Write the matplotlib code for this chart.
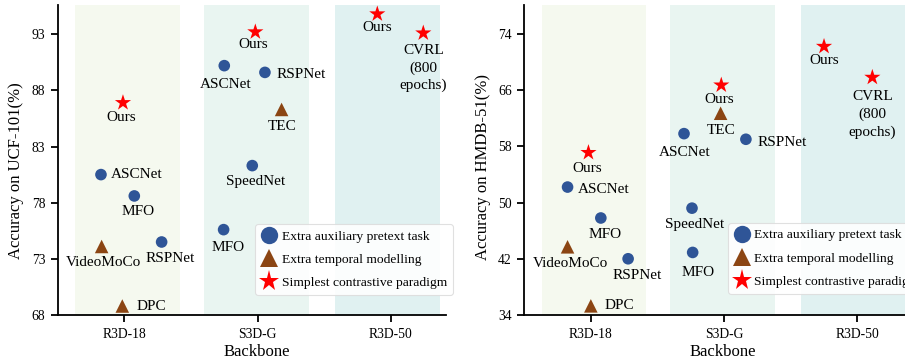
import matplotlib
matplotlib.use("Agg")
import matplotlib.pyplot as plt
from matplotlib.lines import Line2D

plt.rcParams['font.family'] = ['Liberation Serif', 'DejaVu Serif']

# ---------------- data ----------------
backbones = ["R3D-18", "S3D-G", "R3D-50"]
categories = ["Extra auxiliary pretext task", "Extra temporal modelling", "Simplest contrastive paradigm"]

# UCF-101
ucf_names = ["Ours", "ASCNet", "MFO", "RSPNet", "VideoMoCo", "DPC",
             "Ours", "ASCNet", "RSPNet", "TEC", "SpeedNet", "MFO",
             "Ours", "CVRL\n(800\nepochs)"]
ucf_x = [-0.01, -0.175, 0.075, 0.28, -0.17, -0.015,
         0.983, 0.75, 1.055, 1.18, 0.96, 0.745,
         1.898, 2.243]
ucf_acc = [86.9, 80.5, 78.6, 74.5, 74.1, 68.8,
           93.2, 90.2, 89.6, 86.3, 81.3, 75.6,
           94.8, 93.1]
ucf_cat = [2, 0, 0, 0, 1, 1,
           2, 0, 0, 1, 0, 0,
           2, 2]

# HMDB-51
hmdb_names = ["Ours", "ASCNet", "MFO", "VideoMoCo", "RSPNet", "DPC",
              "Ours", "TEC", "ASCNet", "RSPNet", "SpeedNet", "MFO",
              "Ours", "CVRL\n(800\nepochs)"]
hmdb_x = [-0.018, -0.175, 0.075, -0.175, 0.28, 0.0,
          0.98, 0.975, 0.70, 1.165, 0.76, 0.765,
          1.752, 2.115]
hmdb_acc = [57.1, 52.2, 47.8, 43.7, 42.0, 35.3,
            66.7, 62.7, 59.8, 59.0, 49.2, 42.9,
            72.2, 67.8]
hmdb_cat = [2, 0, 0, 1, 0, 1,
            2, 1, 0, 0, 0, 0,
            2, 2]

ucf_ticks = [68, 73, 78, 83, 88, 93]
hmdb_ticks = [34, 42, 50, 58, 66, 74]

# ---------------- styles / layout ----------------
cat_marker = ['o', '^', '*']
cat_color = ['#2f5597', '#8b4513', '#ff0000']
cat_size = [70, 95, 150]
band_colors = ['#f5f9ef', '#e9f5f1', '#e0f1f1']
band_edges = [(-0.37, 0.418), (0.598, 1.386), (1.579, 2.367)]

# label offsets in pixels (dx, dy, ha, va)
ucf_off = [(-2, -15, 'center', 'center'), (10, 0, 'left', 'center'), (4, -16, 'center', 'center'),
           (9, -17, 'center', 'center'), (2, -16, 'center', 'center'), (14, 0, 'left', 'center'),
           (-2, -13, 'center', 'center'), (1, -19, 'center', 'center'), (12, -2, 'left', 'center'),
           (1, -17, 'center', 'center'), (3, -16, 'center', 'center'), (4, -18, 'center', 'center'),
           (0, -14, 'center', 'center'), (0, -11, 'center', 'top')]
hmdb_off = [(-1, -16, 'center', 'center'), (10, -2, 'left', 'center'), (4, -17, 'center', 'center'),
            (3, -17, 'center', 'center'), (9, -17, 'center', 'center'), (14, 0, 'left', 'center'),
            (-2, -14, 'center', 'center'), (1, -17, 'center', 'center'), (1, -19, 'center', 'center'),
            (12, -3, 'left', 'center'), (3, -16, 'center', 'center'), (5, -20, 'center', 'center'),
            (0, -14, 'center', 'center'), (0, -13, 'center', 'top')]

fig = plt.figure(figsize=(9.05, 3.6), dpi=100)
W, H = 905.0, 360.0
ax1 = fig.add_axes([57.65 / W, 1 - 315 / H, 388.3 / W, 310 / H])
ax2 = fig.add_axes([524.3 / W, 1 - 315 / H, 387.7 / W, 310 / H])


def draw(ax, xs, ys, cats, names, offs, ticks, ylim, ylabel, leg_anchor, ylab_y):
    for (a, b), c in zip(band_edges, band_colors):
        ax.axvspan(a, b, color=c, zorder=0, lw=0)
    for ci in range(3):
        px = [x for x, k in zip(xs, cats) if k == ci]
        py = [y for y, k in zip(ys, cats) if k == ci]
        ax.scatter(px, py, marker=cat_marker[ci], s=cat_size[ci], color=cat_color[ci],
                   edgecolors='none', zorder=3)
    for x, y, n, (dx, dy, ha, va) in zip(xs, ys, names, offs):
        ax.annotate(n, (x, y), xytext=(dx, dy), textcoords='offset pixels',
                    ha=ha, va=va, fontsize=11, multialignment='center',
                    linespacing=1.4, zorder=4)
    ax.set_xlim(-0.5, 2.413)
    ax.set_ylim(*ylim)
    ax.set_xticks(range(len(backbones)))
    ax.set_xticklabels(backbones, fontsize=9.8)
    ax.set_yticks(ticks)
    ax.set_yticklabels([str(t) for t in ticks], fontsize=9.8)
    ax.set_xlabel("Backbone", fontsize=12)
    ax.set_ylabel(ylabel, fontsize=12)
    ax.xaxis.set_label_coords(0.512, -0.095)
    ax.yaxis.set_label_coords(-0.086, ylab_y)
    for s in ['top', 'right']:
        ax.spines[s].set_visible(False)
    for s in ['left', 'bottom']:
        ax.spines[s].set_linewidth(1.3)
    ax.tick_params(axis='both', width=1.3, length=5, pad=4)
    handles = [Line2D([], [], marker=cat_marker[i], color=cat_color[i], linestyle='none',
                      markersize=[12.5, 12.5, 15.5][i], markeredgewidth=0) for i in range(3)]
    leg = ax.legend(handles, categories, loc='lower left', bbox_to_anchor=leg_anchor,
                    fontsize=9.7, frameon=True, fancybox=True, framealpha=0.9,
                    handletextpad=0.3, borderpad=0.45, labelspacing=0.8,
                    handlelength=1.2, borderaxespad=0)
    leg.get_frame().set_edgecolor('#dddddd')
    leg.get_frame().set_linewidth(0.8)


draw(ax1, ucf_x, ucf_acc, ucf_cat, ucf_names, ucf_off, ucf_ticks, (68, 95.6),
     "Accuracy on UCF-101(%)", (0.509, 0.064), 0.466)
draw(ax2, hmdb_x, hmdb_acc, hmdb_cat, hmdb_names, hmdb_off, hmdb_ticks, (34, 78.1),
     "Accuracy on HMDB-51(%)", (0.525, 0.068), 0.478)

fig.savefig("out.png", dpi=100)
